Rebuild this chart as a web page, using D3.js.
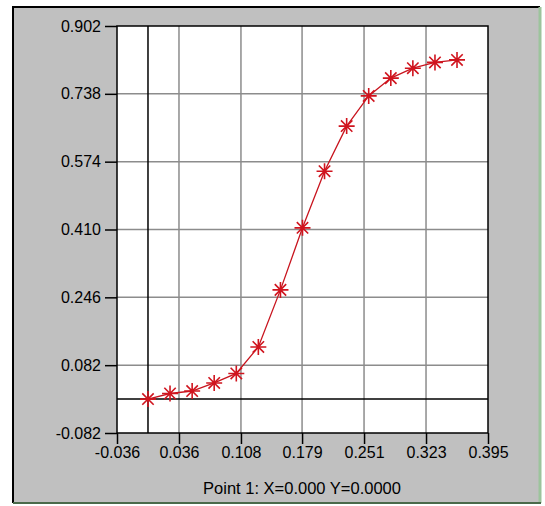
<!DOCTYPE html>
<html>
<head>
<meta charset="utf-8">
<script src="https://cdn.jsdelivr.net/npm/d3@7"></script>
<style>
  body { margin: 0; background: #fff; }
  svg text { font-family: "Liberation Sans", Arial, sans-serif; }
</style>
</head>
<body>
<div id="chart"></div>
<script>
(function () {

    // data
    const xValues = [0, 0.0256, 0.0513, 0.0769, 0.1026, 0.1282, 0.1539, 0.1795, 0.2051, 0.2308, 0.2564, 0.2821, 0.3077, 0.3334, 0.359]
    const yValues = [0, 0.0135, 0.0195, 0.039, 0.062, 0.126, 0.264, 0.414, 0.551, 0.660, 0.733, 0.776, 0.800, 0.814, 0.820]
    const xTicks = [-0.036, 0.036, 0.108, 0.179, 0.251, 0.323, 0.395]
    const yTicks = [-0.082, 0.082, 0.246, 0.410, 0.574, 0.738, 0.902]
    const statusText = 'Point 1: X=0.000 Y=0.0000'

    const width = 545
    const height = 506
    const plot = { left: 117, top: 26, right: 488, bottom: 433 }

    const svg = d3.select('#chart')
        .append('svg')
        .attr('width', width)
        .attr('height', height)

    // panel frame
    svg.append('rect')
        .attr('x', 13).attr('y', 7)
        .attr('width', 527).attr('height', 496)
        .attr('fill', '#c0c0c0')
    svg.append('path')
        .attr('d', 'M13,503 V7 H540')
        .attr('fill', 'none').attr('stroke', '#000').attr('stroke-width', 2)
    svg.append('path')
        .attr('d', 'M540,7 V503')
        .attr('fill', 'none').attr('stroke', '#9cc49c').attr('stroke-width', 3)
    svg.append('path')
        .attr('d', 'M13,503 H541')
        .attr('fill', 'none').attr('stroke', '#4a6a4a').attr('stroke-width', 2)

    const x = d3.scaleLinear().domain([-0.036, 0.395]).range([plot.left, plot.right])
    const y = d3.scaleLinear().domain([-0.082, 0.902]).range([plot.bottom, plot.top])

    svg.append('rect')
        .attr('x', plot.left).attr('y', plot.top)
        .attr('width', plot.right - plot.left).attr('height', plot.bottom - plot.top)
        .attr('fill', '#fff')

    // grid
    const grid = svg.append('g')
    grid.selectAll('.vx')
        .data(xTicks.slice(1, -1))
        .join('line')
        .attr('x1', d => x(d)).attr('x2', d => x(d))
        .attr('y1', plot.top).attr('y2', plot.bottom)
        .attr('stroke', '#8c8c8c').attr('stroke-width', 1.5)
    grid.selectAll('.hy')
        .data(yTicks.slice(1, -1))
        .join('line')
        .attr('class', 'hy')
        .attr('y1', d => y(d)).attr('y2', d => y(d))
        .attr('x1', plot.left).attr('x2', plot.right)
        .attr('stroke', '#8c8c8c').attr('stroke-width', 1.5)

    // zero lines
    svg.append('line')
        .attr('x1', x(0)).attr('x2', x(0))
        .attr('y1', plot.top).attr('y2', plot.bottom)
        .attr('stroke', '#000').attr('stroke-width', 1.5)
    svg.append('line')
        .attr('y1', y(0)).attr('y2', y(0))
        .attr('x1', plot.left).attr('x2', plot.right)
        .attr('stroke', '#000').attr('stroke-width', 1.5)

    // plot border
    svg.append('rect')
        .attr('x', plot.left).attr('y', plot.top)
        .attr('width', plot.right - plot.left).attr('height', plot.bottom - plot.top)
        .attr('fill', 'none').attr('stroke', '#000').attr('stroke-width', 1.5)

    // axes
    const xAxis = d3.axisBottom(x)
        .tickValues(xTicks)
        .tickSize(11)
        .tickPadding(3)
        .tickFormat(d3.format('.3f'))
    const yAxis = d3.axisLeft(y)
        .tickValues(yTicks)
        .tickSize(12)
        .tickPadding(4)
        .tickFormat(d3.format('.3f'))

    const gx = svg.append('g')
        .attr('transform', `translate(0,${plot.bottom})`)
        .call(xAxis)
    const gy = svg.append('g')
        .attr('transform', `translate(${plot.left},0)`)
        .call(yAxis)

    for (let g of [gx, gy]) {
        g.select('.domain').remove()
        g.selectAll('.tick line').attr('stroke', '#000').attr('stroke-width', 1.5)
        g.selectAll('.tick text')
            .attr('fill', '#000')
            .style('font-size', '16px')
            .text(d => d3.format('.3f')(d).replace('−', '-'))
    }

    // curve
    const pts = xValues.map((d, i) => [d, yValues[i]])

    const line = d3.line()
        .x(d => x(d[0]))
        .y(d => y(d[1]))

    svg.append('path')
        .datum(pts)
        .attr('d', line)
        .attr('fill', 'none')
        .attr('stroke', '#c8141e')
        .attr('stroke-width', 1.3)

    const star = 'M-8,0H8M0,-8V8M-5.7,-5.7L5.7,5.7M-5.7,5.7L5.7,-5.7'
    svg.append('g')
        .selectAll('path')
        .data(pts)
        .join('path')
        .attr('transform', d => `translate(${x(d[0])},${y(d[1])})`)
        .attr('d', star)
        .attr('stroke', '#d0141e')
        .attr('stroke-width', 1.6)
        .attr('fill', 'none')

    svg.append('text')
        .attr('x', 302)
        .attr('y', 494)
        .attr('text-anchor', 'middle')
        .style('font-size', '16.5px')
        .attr('fill', '#000')
        .text(statusText)

})();
</script>
</body>
</html>
